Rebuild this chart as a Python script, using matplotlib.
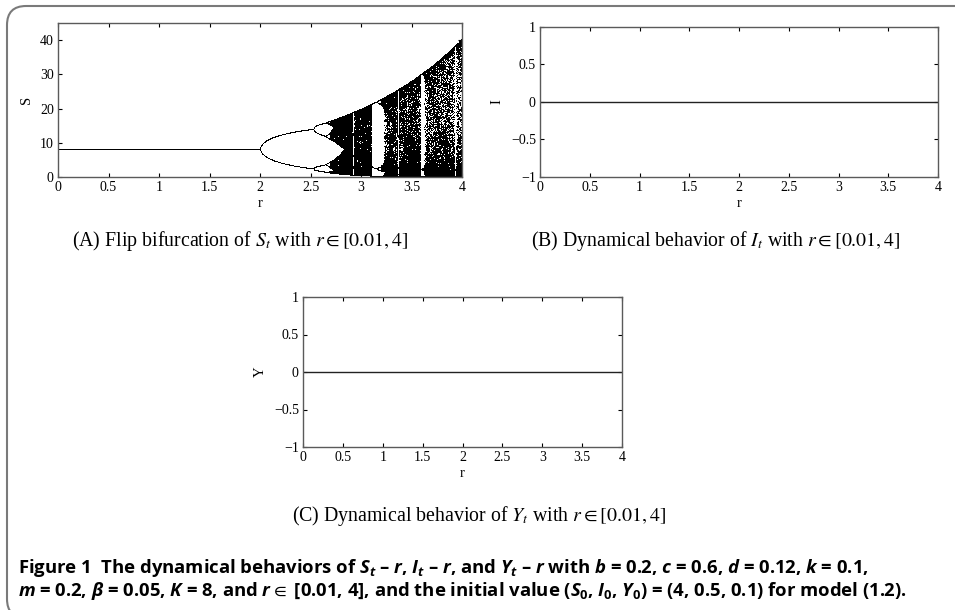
import numpy as np
import matplotlib
matplotlib.use("Agg")
import matplotlib.pyplot as plt
from matplotlib.patches import FancyBboxPatch

# ---- model parameters (read from the caption) ----
K = 8.0                 # carrying capacity
S0, I0, Y0 = 4.0, 0.5, 0.1
r_min, r_max = 0.01, 4.0
n_r = 1000              # number of r samples
n_transient = 1500
n_keep = 180

r_values = np.linspace(r_min, r_max, n_r)

# iterate the S-map (I and Y die out to 0)
S = np.full(n_r, S0)
for _ in range(n_transient):
    S = S * np.exp(r_values * (1.0 - S / K))
S_orbit = []
for _ in range(n_keep):
    S = S * np.exp(r_values * (1.0 - S / K))
    S_orbit.append(S.copy())
S_orbit = np.array(S_orbit)
I_values = np.zeros(n_r)
Y_values = np.zeros(n_r)

x_ticks = [0, 0.5, 1, 1.5, 2, 2.5, 3, 3.5, 4]
x_ticklabels = ["0", "0.5", "1", "1.5", "2", "2.5", "3", "3.5", "4"]
s_ticks = [0, 10, 20, 30, 40]
iy_ticks = [-1, -0.5, 0, 0.5, 1]
iy_ticklabels = ["\u22121", "\u22120.5", "0", "0.5", "1"]

plt.rcParams["font.family"] = ["Liberation Serif", "DejaVu Serif"]
plt.rcParams["mathtext.fontset"] = "custom"
plt.rcParams["mathtext.rm"] = "Open Sans:bold"
plt.rcParams["mathtext.it"] = "Open Sans:bold:italic"
plt.rcParams["mathtext.bf"] = "Open Sans:bold"
plt.rcParams["mathtext.fallback"] = "stixsans"

W, H = 955, 610
fig = plt.figure(figsize=(W / 100, H / 100), dpi=100)

def ax_at(l, t, r, b):
    return fig.add_axes([l / W, 1 - b / H, (r - l) / W, (b - t) / H])

def style(ax, yticks, ylabels, ylabel):
    ax.set_xlim(0, 4)
    ax.set_xticks(x_ticks)
    ax.set_xticklabels(x_ticklabels)
    ax.set_yticks(yticks)
    ax.set_yticklabels(ylabels)
    ax.tick_params(direction="in", top=True, right=True, length=3, width=0.8,
                   labelsize=10, pad=3, colors="black")
    for sp in ax.spines.values():
        sp.set_color("#5a5a5a")
        sp.set_linewidth(1.0)
    ax.set_xlabel("r", fontsize=10.5, labelpad=2)
    ax.set_ylabel(ylabel, fontsize=10.5, labelpad=5)

# Panel A
axA = ax_at(58, 23, 462, 177)
axA.plot(np.tile(r_values, n_keep), S_orbit.ravel(), ",", color="black",
         rasterized=True)
axA.set_ylim(0, 45)
style(axA, s_ticks, [str(v) for v in s_ticks], "S")

# Panel B
axB = ax_at(540, 27, 938, 177)
axB.plot(r_values, I_values, color="#222222", lw=1.0)
axB.set_ylim(-1, 1)
style(axB, iy_ticks, iy_ticklabels, "I")

# Panel C
axC = ax_at(303, 297, 622, 447)
axC.plot(r_values, Y_values, color="#222222", lw=1.0)
axC.set_ylim(-1, 1)
style(axC, iy_ticks, iy_ticklabels, "Y")

cap_kw = dict(fontsize=14.3, ha="center", va="baseline", math_fontfamily="stix")
fig.text(240 / W, 1 - 246 / H,
         r"(A) Flip bifurcation of $S_t$ with $r \in [0.01, 4]$", **cap_kw)
fig.text(716 / W, 1 - 246 / H,
         r"(B) Dynamical behavior of $I_t$ with $r \in [0.01, 4]$", **cap_kw)
fig.text(479 / W, 1 - 521 / H,
         r"(C) Dynamical behavior of $Y_t$ with $r \in [0.01, 4]$", **cap_kw)

fc_kw = dict(fontsize=13.3, ha="left", va="center",
             family=["Open Sans", "DejaVu Sans"], fontweight="bold")
fig.text(18 / W, 1 - 568 / H,
         r"Figure 1  The dynamical behaviors of $S_t$ – $r$, $I_t$ – $r$, and $Y_t$ – $r$ "
         r"with $b$ = 0.2, $c$ = 0.6, $d$ = 0.12, $k$ = 0.1,", **fc_kw)
fig.text(18 / W, 1 - 591 / H,
         r"$m$ = 0.2, $\beta$ = 0.05, $K$ = 8, and $r \in$ [0.01, 4], and the initial value "
         r"($S_0$, $I_0$, $Y_0$) = (4, 0.5, 0.1) for model (1.2).", **fc_kw)

frame = FancyBboxPatch((7 / W, -8 / H), 1.05, (H - 6 + 8) / H,
                       boxstyle="round,pad=0,rounding_size=0.02",
                       transform=fig.transFigure, fill=False,
                       edgecolor="#7a7a7a", linewidth=1.5,
                       mutation_aspect=W / H)
fig.add_artist(frame)

fig.savefig("out.png", dpi=100)
